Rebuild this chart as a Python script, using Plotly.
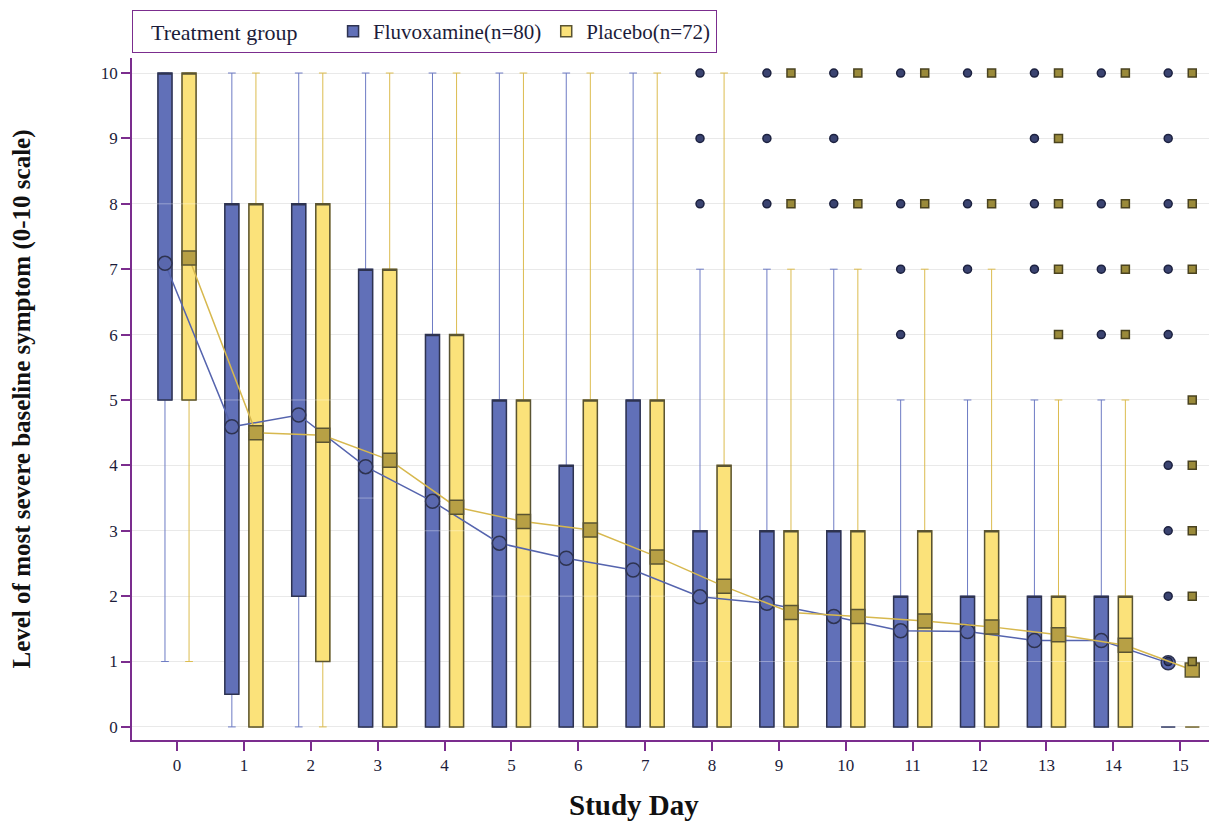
import plotly.graph_objects as go

days = list(range(16))

# Fluvoxamine (n=80)
flu_q1 = [5, 0.5, 2, 0, 0, 0, 0, 0, 0, 0, 0, 0, 0, 0, 0, 0]
flu_med = [8, 5, 5, 3.5, 3, 2, 2, 2, 1, 1, 1, 1, 1, 1, 1, 0]
flu_q3 = [10, 8, 8, 7, 6, 5, 4, 5, 3, 3, 3, 2, 2, 2, 2, 0]
flu_lo = [1, 0, 0, 0, 0, 0, 0, 0, 0, 0, 0, 0, 0, 0, 0, 0]
flu_hi = [10, 10, 10, 10, 10, 10, 10, 10, 7, 7, 7, 5, 5, 5, 5, 0]
flu_mean = [7.09, 4.59, 4.77, 3.98, 3.45, 2.81, 2.58, 2.40, 1.99, 1.89, 1.69, 1.47, 1.46, 1.32, 1.32, 0.98]
flu_out = {8: [8, 9, 10], 9: [8, 9, 10], 10: [8, 9, 10], 11: [6, 7, 8, 10], 12: [7, 8, 10],
           13: [7, 8, 9, 10], 14: [6, 7, 8, 10], 15: [1, 2, 3, 4, 6, 7, 8, 9, 10]}

# Placebo (n=72)
pla_q1 = [5, 0, 1, 0, 0, 0, 0, 0, 0, 0, 0, 0, 0, 0, 0, 0]
pla_med = [8, 4.5, 5, 4, 3, 2, 2, 2, 1, 1, 1, 1, 1, 1, 1, 0]
pla_q3 = [10, 8, 8, 7, 6, 5, 5, 5, 4, 3, 3, 3, 3, 2, 2, 0]
pla_lo = [1, 0, 0, 0, 0, 0, 0, 0, 0, 0, 0, 0, 0, 0, 0, 0]
pla_hi = [10, 10, 10, 10, 10, 10, 10, 10, 10, 7, 7, 7, 7, 5, 5, 0]
pla_mean = [7.17, 4.50, 4.46, 4.08, 3.36, 3.14, 3.01, 2.60, 2.15, 1.75, 1.69, 1.62, 1.53, 1.41, 1.25, 0.87]
pla_out = {9: [8, 10], 10: [8, 10], 11: [8, 10], 12: [8, 10], 13: [6, 7, 8, 9, 10],
           14: [6, 7, 8, 10], 15: [1, 2, 3, 4, 5, 7, 8, 10]}

tick_vals_y = list(range(0, 11))
FONT = "Liberation Serif"
OFF = 0.18
BW = 0.21

groups = [
    dict(name="Fluvoxamine(n=80)", q1=flu_q1, med=flu_med, q3=flu_q3, lo=flu_lo, hi=flu_hi,
         mean=flu_mean, out=flu_out, off=-OFF, fill="#6170b8", edge="#2e3350",
         whisk="#6d7bc4", meanline="#5564ae", msym="circle", mfill="#5a68ae",
         ofill="#3a4370", oedge="#1d2240"),
    dict(name="Placebo(n=72)", q1=pla_q1, med=pla_med, q3=pla_q3, lo=pla_lo, hi=pla_hi,
         mean=pla_mean, out=pla_out, off=OFF, fill="#fbe27a", edge="#5a5432",
         whisk="#dcbc4f", meanline="#d7b84e", msym="square", mfill="#b7a045",
         ofill="#9a8a3a", oedge="#4a4320"),
]

fig = go.Figure()

for g in groups:
    xs = [d + g["off"] for d in days]
    # whiskers
    fig.add_trace(go.Box(x=xs, q1=g["q1"], median=g["med"], q3=g["q3"],
                         lowerfence=g["lo"], upperfence=g["hi"],
                         width=BW, whiskerwidth=0.55, boxpoints=False,
                         fillcolor="rgba(0,0,0,0)", line=dict(color=g["whisk"], width=1),
                         showlegend=False, hoverinfo="skip"))
    # box body with dark outline
    fig.add_trace(go.Box(x=xs, q1=g["q1"], median=g["q3"], q3=g["q3"],
                         lowerfence=g["q1"], upperfence=g["q3"],
                         width=BW, whiskerwidth=0, boxpoints=False,
                         fillcolor=g["fill"], line=dict(color=g["edge"], width=1.5),
                         showlegend=False, hoverinfo="skip"))
    # medians (faint)
    fig.add_trace(go.Scatter(x=xs, y=g["med"], mode="markers",
                             marker=dict(symbol="line-ew", size=13,
                                         line=dict(color="rgba(255,255,255,0.35)", width=1)),
                             showlegend=False, hoverinfo="skip"))

for g in groups:
    xs = [d + g["off"] for d in days]
    fig.add_trace(go.Scatter(x=xs, y=g["mean"], mode="lines+markers",
                             line=dict(color=g["meanline"], width=1.5),
                             marker=dict(symbol=g["msym"], size=14, color=g["mfill"],
                                         line=dict(color=g["edge"], width=1.5)),
                             showlegend=False, hoverinfo="skip"))
    ox, oy = [], []
    for d, vals in g["out"].items():
        for v in vals:
            ox.append(d + g["off"])
            oy.append(v)
    fig.add_trace(go.Scatter(x=ox, y=oy, mode="markers",
                             marker=dict(symbol=g["msym"], size=8, color=g["ofill"],
                                         line=dict(color=g["oedge"], width=1.5)),
                             showlegend=False, hoverinfo="skip"))

# legend entries
for g in groups:
    fig.add_trace(go.Scatter(x=[None], y=[None], mode="markers", name=g["name"],
                             marker=dict(symbol="square", size=11, color=g["fill"],
                                         line=dict(color=g["edge"], width=1.5))))

fig.update_layout(
    width=1209, height=813,
    paper_bgcolor="white", plot_bgcolor="white",
    font=dict(family=FONT, color="#1c1c3a", size=17),
    margin=dict(l=124, r=0, t=50, b=81),
    boxmode="overlay",
    legend=dict(orientation="h", x=0, xanchor="left", y=1.0 + 48 / 682, yanchor="top",
                title=dict(text="   Treatment group     ", font=dict(size=22, family=FONT, color="#1c1c3a")),
                font=dict(size=21, family=FONT, color="#1c1c3a"),
                bordercolor="#7b2d8e", borderwidth=1, itemwidth=30,
                traceorder="normal"),
    xaxis=dict(range=[-0.673, 15.55], tickmode="array", tickvals=days,
               ticktext=[str(d) for d in days],
               showline=True, linecolor="#7b2d8e", linewidth=1.5,
               ticks="outside", ticklen=9, tickcolor="#7b2d8e", tickwidth=1.5,
               showgrid=False, zeroline=False,
               tickfont=dict(size=17)),
    yaxis=dict(range=[-0.2, 10.23], tickmode="array", tickvals=tick_vals_y,
               showline=True, linecolor="#7b2d8e", linewidth=1.5,
               ticks="outside", ticklen=9, tickcolor="#7b2d8e", tickwidth=1.5,
               showgrid=True, gridcolor="#e9e9e9", gridwidth=1, zeroline=False,
               tickfont=dict(size=17),
               title=dict(text="<b>Level of most severe baseline symptom (0-10 scale)</b>",
                          font=dict(size=25, family=FONT, color="#111111"), standoff=70)),
    annotations=[dict(text="<b>Study Day</b>", xref="paper", yref="paper",
                      x=(634 - 132) / (1217 - 132), y=-(805 - 740) / 682,
                      xanchor="center", yanchor="middle", showarrow=False,
                      font=dict(size=29, family=FONT, color="#111111"))],
)

fig.write_html("out.html")
